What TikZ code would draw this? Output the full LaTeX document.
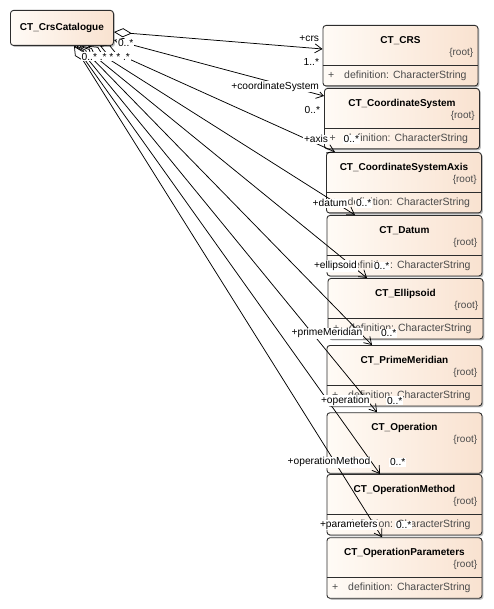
\documentclass[tikz,border=0pt]{standalone}
\usepackage{fontspec}
\setmainfont{Liberation Sans}
\usetikzlibrary{arrows.meta,calc,shadows}

\definecolor{boxL}{RGB}{255,251,246}
\definecolor{boxR}{RGB}{249,226,208}
\definecolor{txtgray}{RGB}{75,75,75}
\definecolor{edgec}{RGB}{45,45,45}

\tikzset{
  classbox/.style={draw=edgec, line width=0.9pt, rounded corners=3pt,
    left color=boxL, right color=boxR, minimum width=155pt, minimum height=60.5pt,
    inner sep=0pt, drop shadow={shadow xshift=1.5pt,shadow yshift=-1.5pt,opacity=0.25,fill=black}},
  titletxt/.style={font=\fontsize{10}{12}\selectfont\bfseries, inner sep=0pt},
  roottxt/.style={font=\fontsize{10}{12}\selectfont, text=txtgray, inner sep=0pt, anchor=east},
  attrtxt/.style={font=\fontsize{10.5}{12}\selectfont, text=txtgray, inner sep=0pt, anchor=west},
  divline/.style={draw=edgec, line width=0.9pt},
  lbl/.style={font=\fontsize{10.2}{12}\selectfont, fill=white, inner sep=0.8pt, text=black},
  assoc/.style={draw=black, line width=0.75pt,
    {Diamond[length=18pt,width=9pt,fill=white,line width=0.75pt]}-{Straight Barb[length=7pt,width=9pt,line width=0.75pt]}}
}

\newcommand\umlclass[5]{%
  \node[classbox, anchor=north west] (#1) at (#2,#3) {};
  \node[titletxt] (#1-t) at ($(#1.north)+(0,15.5)$) {#4};
  \node[roottxt] (#1-r) at ($(#1.north east)+(-5,28)$) {\{root\}};
  \ifnum#5=1
    \draw[divline] ($(#1.north west)+(0,40)$) -- ($(#1.north east)+(0,40)$);
    \node[attrtxt] (#1-p) at ($(#1.north west)+(5.5,50.5)$) {+};
    \node[attrtxt] (#1-a) at ($(#1.north west)+(21.5,50.5)$) {definition: CharacterString};
  \fi
}

\begin{document}
\begin{tikzpicture}[x=1pt,y=-1pt]
\useasboundingbox (0,0) rectangle (493,609);

% catalogue
\node[classbox, anchor=north west, minimum width=103pt, minimum height=35pt,
      font=\fontsize{10}{12}\selectfont\bfseries] (cat) at (10,10) {CT\_CrsCatalogue};

% classes
\umlclass{crs}{322.5}{25}{CT\_CRS}{1}
\umlclass{csys}{324}{88}{CT\_CoordinateSystem}{1}
\umlclass{axis}{326}{152}{CT\_CoordinateSystemAxis}{1}
\umlclass{datum}{326.5}{215}{CT\_Datum}{1}
\umlclass{ellip}{327.5}{278}{CT\_Ellipsoid}{1}
\umlclass{pm}{326.5}{345}{CT\_PrimeMeridian}{1}
\umlclass{op}{326.5}{412.3}{CT\_Operation}{0}
\umlclass{om}{326.5}{474}{CT\_OperationMethod}{1}
\umlclass{par}{326.5}{537.3}{CT\_OperationParameters}{1}

% connectors
\draw[assoc] ($(cat.north east)+(0,22)$) -- ($(crs.north west)+(0,24)$);
\draw[assoc] ($(cat.north east)+(0,30)$) -- ($(csys.north west)+(0,8)$);
\draw[assoc] ($(cat.south west)+(90,0)$) -- ($(axis.north west)+(9,0)$);
\draw[assoc] ($(cat.south west)+(78,0)$) -- ($(datum.north west)+(28.5,0)$);
\draw[assoc] ($(cat.south west)+(72,0)$) -- ($(ellip.north west)+(39.5,0)$);
\draw[assoc] ($(cat.south west)+(70,0)$) -- ($(pm.north west)+(45.5,0)$);
\draw[assoc] ($(cat.south west)+(67,0)$) -- ($(op.north west)+(50.5,0)$);
\draw[assoc] ($(cat.south west)+(65,0)$) -- ($(om.north west)+(53.5,0)$);
\draw[assoc] ($(cat.south west)+(64,0)$) -- ($(par.north west)+(55.5,0)$);

% source multiplicities
\node[lbl, anchor=west] (ms1) at (117,43.3) {0..*};
\node[lbl, anchor=west] (ms2) at (80.7,56.7) {0..*~.*~*~*~.*};

% role names and target multiplicities
\node[lbl, anchor=east] (r1) at (320,38.3) {+crs};
\node[lbl, anchor=east] (m1) at (320,61.7) {1..*};
\node[lbl, anchor=east] (r2) at (320,86.7) {+coordinateSystem};
\node[lbl, anchor=east] (m2) at (321,110) {0..*};
\node[lbl, anchor=west] (r3) at (303,139.3) {+axis};
\node[lbl, anchor=west] (m3) at (342.7,139.3) {0..*};
\node[lbl, anchor=west] (r4) at (311.7,203.3) {+datum};
\node[lbl, anchor=west] (m4) at (355,203.3) {0..*};
\node[lbl, anchor=west] (r5) at (313,266) {+ellipsoid};
\node[lbl, anchor=west] (m5) at (373,266) {0..*};
\node[lbl, anchor=west] (r6) at (290.7,333.3) {+primeMeridian};
\node[lbl, anchor=west] (m6) at (380,333.3) {0..*};
\node[lbl, anchor=west] (r7) at (320,400.7) {+operation};
\node[lbl, anchor=west] (m7) at (386,400.7) {0..*};
\node[lbl, anchor=west] (r8) at (286.7,462.3) {+operationMethod};
\node[lbl, anchor=west] (m8) at (389,462.3) {0..*};
\node[lbl, anchor=west] (r9) at (319,525) {+parameters};
\node[lbl, anchor=west] (m9) at (395,525) {0..*};
\end{tikzpicture}
\end{document}
